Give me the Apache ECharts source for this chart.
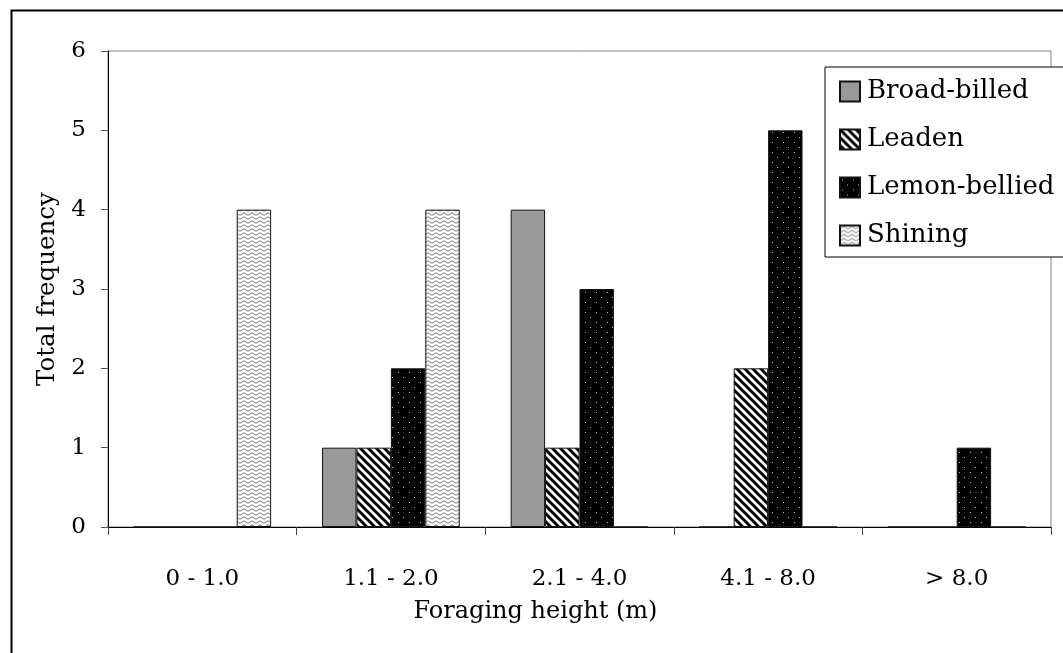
<!DOCTYPE html>
<html>
<head>
<meta charset="utf-8">
<script src="https://cdn.jsdelivr.net/npm/echarts@6/dist/echarts.min.js"></script>
<style>
  html, body { margin: 0; padding: 0; background: #fff; }
  #chart { width: 1063px; height: 653px; }
</style>
</head>
<body>
<div id="chart"></div>
<script>
// Foraging height classes and counts per species
const categories = ['0 - 1.0', '1.1 - 2.0', '2.1 - 4.0', '4.1 - 8.0', '> 8.0'];
const broadBilled = [0, 1, 4, 0, 0];
const leaden = [0, 1, 1, 2, 0];
const lemonBellied = [0, 2, 3, 5, 1];
const shining = [4, 4, 0, 0, 0];
const yTicks = [0, 1, 2, 3, 4, 5, 6];

const FONT = '"DejaVu Serif", "Liberation Serif", serif';

// Fill patterns built on small tiles
function tile(w, h, draw) {
  const c = document.createElement('canvas');
  c.width = w; c.height = h;
  draw(c.getContext('2d'), w, h);
  return { image: c, repeat: 'repeat' };
}

const diagonalStripes = tile(8, 8, (ctx, w, h) => {
  ctx.fillStyle = '#fff';
  ctx.fillRect(0, 0, w, h);
  ctx.strokeStyle = '#000';
  ctx.lineWidth = 3;
  for (const off of [-8, 0, 8]) {
    ctx.beginPath();
    ctx.moveTo(off - 1, -1);
    ctx.lineTo(off + 9, 9);
    ctx.stroke();
  }
});

const dottedBlack = tile(11, 10, (ctx, w, h) => {
  ctx.fillStyle = '#000';
  ctx.fillRect(0, 0, w, h);
  ctx.fillStyle = '#bdbdbd';
  ctx.fillRect(2, 2, 1, 1);
  ctx.fillRect(7, 7, 1, 1);
});

const waves = tile(8, 4, (ctx, w, h) => {
  ctx.fillStyle = '#fff';
  ctx.fillRect(0, 0, w, h);
  ctx.strokeStyle = '#8a8a8a';
  ctx.lineWidth = 1.1;
  ctx.beginPath();
  ctx.moveTo(0, 3.4);
  ctx.lineTo(4, 0.8);
  ctx.lineTo(8, 3.4);
  ctx.stroke();
});

function barSeries(name, data, fill) {
  return {
    name: name,
    type: 'bar',
    data: data,
    barGap: '0%',
    barCategoryGap: '27%',
    itemStyle: { color: fill, borderColor: '#111', borderWidth: 1 }
  };
}

const chart = echarts.init(document.getElementById('chart'), null, { renderer: 'canvas' });

chart.setOption({
  animation: false,
  backgroundColor: '#fff',
  textStyle: { fontFamily: FONT },
  grid: {
    left: 108, top: 51, right: 12, bottom: 126,
    show: true, borderColor: '#808080', borderWidth: 1, backgroundColor: 'transparent'
  },
  legend: {
    orient: 'vertical',
    left: 825,
    top: 67,
    padding: [11, 120, 8, 14],
    itemGap: 21,
    itemWidth: 20,
    itemHeight: 20,
    icon: 'rect',
    backgroundColor: '#fff',
    borderColor: '#000',
    borderWidth: 1,
    textStyle: { fontFamily: FONT, fontSize: 26, color: '#000', lineHeight: 27, padding: [0, 0, 0, 2] },
    data: ['Broad-billed', 'Leaden', 'Lemon-bellied', 'Shining']
  },
  xAxis: {
    type: 'category',
    data: categories,
    name: 'Foraging height (m)',
    nameLocation: 'middle',
    nameGap: 73,
    nameTextStyle: { fontFamily: FONT, fontSize: 24, color: '#000', padding: [0, 88, 0, 0] },
    axisLine: { lineStyle: { color: '#000', width: 1 } },
    axisTick: { show: true, length: 8, lineStyle: { color: '#444' } },
    axisLabel: { fontFamily: FONT, fontSize: 23, color: '#000', margin: 41 }
  },
  yAxis: {
    type: 'value',
    min: yTicks[0],
    max: yTicks[yTicks.length - 1],
    interval: 1,
    name: 'Total frequency',
    nameLocation: 'middle',
    nameGap: 35,
    nameTextStyle: { fontFamily: FONT, fontSize: 24.5, color: '#000' },
    axisLine: { show: true, lineStyle: { color: '#000', width: 1 } },
    axisTick: { show: true, length: 7, lineStyle: { color: '#555' } },
    splitLine: { show: false },
    axisLabel: { fontFamily: FONT, fontSize: 23, color: '#000', margin: 22 }
  },
  series: [
    barSeries('Broad-billed', broadBilled, '#999999'),
    barSeries('Leaden', leaden, diagonalStripes),
    barSeries('Lemon-bellied', lemonBellied, dottedBlack),
    barSeries('Shining', shining, waves)
  ],
  graphic: [{
    // outer chart frame, running past the right and bottom edges
    type: 'rect',
    left: 9, top: 8,
    shape: { width: 1200, height: 700 },
    style: { fill: 'none', stroke: '#000', lineWidth: 2 },
    silent: true,
    z: 100
  }]
});
</script>
</body>
</html>
